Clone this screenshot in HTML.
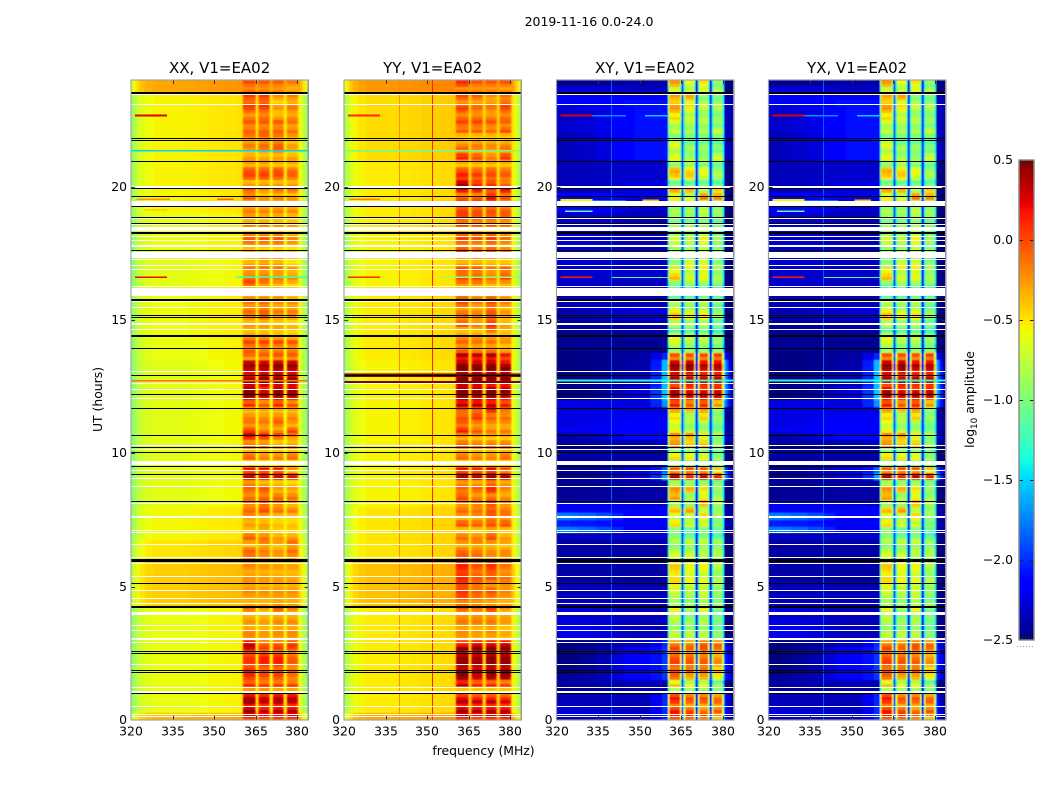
<!DOCTYPE html>
<html lang="en">
<head>
<meta charset="utf-8">
<title>2019-11-16 0.0-24.0</title>
<style>
html,body{margin:0;padding:0;background:#fff;}
svg{display:block;font-family:"DejaVu Sans","Liberation Sans",sans-serif;fill:#000;}
</style>
</head>
<body>
<svg id="figure" xmlns="http://www.w3.org/2000/svg" width="1050" height="800" viewBox="0 0 1050 800">
<defs><filter id="soften" x="-2%" y="-1%" width="104%" height="102%"><feGaussianBlur stdDeviation="0.5"/></filter></defs>
<text x="589" y="26" font-size="12.5" text-anchor="middle">2019-11-16 0.0-24.0</text>
<text x="483.5" y="755" font-size="12.4" text-anchor="middle">frequency (MHz)</text>
<text x="0" y="0" font-size="12.4" text-anchor="middle" transform="translate(102,399.5) rotate(-90)">UT (hours)</text>
<text x="0" y="0" font-size="12.4" text-anchor="middle" transform="translate(974,399.5) rotate(-90)">log<tspan font-size="8.8" dy="3">10</tspan><tspan dy="-3"> amplitude</tspan></text>
<g id="panels"></g>
<g id="colorbar"></g>
</svg>
<script>
// ---- shared axis data ----
const panelTitles = ["XX, V1=EA02", "YY, V1=EA02", "XY, V1=EA02", "YX, V1=EA02"];
const xTickLabels = [320, 335, 350, 365, 380];
const yTickLabels = [0, 5, 10, 15, 20];
const colorbarTicks = [0.5, 0.0, -0.5, -1.0, -1.5, -2.0, -2.5];
const utBinHours = 0.25;

// frequency channels (MHz) and what each one samples
const channelEdges = [320,320.7,321.4,322.2,323.2,325,328,334,340,344,348,354,358,360.2,360.8,364.5,365.1,365.9,366.5,369.6,370.2,371,371.6,374.7,375.3,376.1,376.7,379.8,380.4,381.2,382,383,384];
const channelKind  = [0,0,0,0,0,0,0,0,0,0,0,0,0,2,1,2,3,2,1,2,3,2,1,2,3,2,1,2,0,0,0,0];
const channelBlock = [0,0,0,0,0,0,0,0,0,0,0,0,0,0,0,0,0,1,1,1,1,2,2,2,2,3,3,3,3,3,3,3];
const channelRolloff  = [-.35,-.3,-.22,-.15,-.08,-.03,0,0,.01,.02,.04,.05,.06,0,0,0,0,0,0,0,0,0,0,0,0,0,0,0,0,-.08,-.2,-.35];
const channelShoulder = [0,0,0,0,0,0,0,0,0,0,0,.3,.75,0,0,0,0,0,0,0,0,0,0,0,0,0,0,0,.8,.6,.4,.15];
const channelMidWeight = [0,0,0,0,0,.05,.15,.35,.65,.9,1,1,1,1,1,1,1,1,1,1,1,1,1,1,1,1,1,1,1,1,1,1];
const channelCrossTrim = [0,0,0,0,0,0,0,0,0,0,0,0,0,0,0,0,0,0,0,0,0,0,0,0,0,0,0,0,-.2,-.25,-.25,-.25];

// within-bin banding of the sub-band power (upper half +d, lower half -d), per 15-minute UT bin
const blockStripe = [
.1,-.1,.12,-.1,0,-.12,.05,-.08,.08,-.05,.1,-.1,
.04,-.05,.05,-.03,.06,-.05,.03,-.05,.04,-.03,.04,-.05,
.06,-.05,.08,-.06,.05,-.04,.06,-.05,.05,-.06,.04,-.05,
-.05,.1,0,-.05,.05,-.06,.1,-.08,.06,-.05,.06,-.1,
.1,-.08,.12,-.08,.08,-.1,.1,-.06,.08,-.05,.05,-.06,
.05,-.06,.06,-.05,0,.08,-.06,.06,-.05,.08,-.05,.06,
-.06,.05,-.08,.06,-.05,.06,-.08,.08,-.06,.06,-.05,.06,
-.05,.08,-.06,.06,-.06,.08,-.06,.06,-.08,.05,-.05,.06
];

// ---- XX: background and four sub-band amplitudes per 15-minute UT bin (log10) ----
const xxBase = [-.35,-.6,-.6,-.6,-.6,-.6,-.6,-.6,-.6,-.6,-.6,-.6,-.6,-.6,-.6,-.6,-.6,-.42,-.42,-.42,-.42,-.42,-.42,-.42,-.5,-.5,-.5,-.56,-.56,-.56,-.56,-.56,-.62,-.62,-.62,-.62,-.62,-.62,-.62,-.62,-.62,-.62,-.62,-.62,-.62,-.62,-.62,-.62,-.62,-.62,-.62,-.62,-.62,-.62,-.6,-.6,-.6,-.58,-.58,-.58,-.58,-.58,-.58,-.58,-.58,-.62,-.62,-.62,-.62,-.62,-.6,-.6,-.6,-.6,-.6,-.6,-.55,-.55,-.55,-.55,-.55,-.55,-.55,-.55,-.55,-.55,-.55,-.55,-.55,-.55,-.55,-.55,-.55,-.55,-.3,-.3];
const xxBlocks = [
[.15,.1,.15,.15],[.38,.25,.3,.3],[.3,.2,.25,.2],[.3,.22,.28,.28],[-.25,-.25,-.3,-.3],[.05,-.05,-.05,-.05],[.08,-.02,0,-.15],[.12,-.02,-.05,-.12],
[.02,.08,.08,-.12],[.05,.12,.12,-.1],[.15,-.05,-.05,-.1],[.25,-.12,-.1,0],[-.22,-.28,-.25,-.25],[-.25,-.3,-.25,-.25],[-.28,-.3,-.25,-.25],[-.32,-.35,-.3,-.32],
[-.15,-.32,-.1,-.22],[-.3,-.3,-.25,-.28],[-.3,-.3,-.28,-.28],[-.22,-.25,-.25,-.25],[-.25,-.3,-.3,-.3],[-.25,-.28,-.3,-.32],[-.28,-.3,-.32,-.32],[-.22,-.28,-.3,-.32],
[-.18,-.25,-.3,-.25],[-.12,-.2,-.28,-.15],[-.35,-.25,-.35,-.2],[-.1,-.18,-.3,-.3],[-.4,-.35,-.45,-.45],[-.3,-.32,-.4,-.42],[-.25,-.32,-.4,-.4],[-.12,-.02,-.15,-.2],
[-.18,-.08,-.2,-.3],[-.15,-.12,-.12,-.15],[-.1,-.05,-.3,-.3],[-.2,-.3,-.35,-.42],[.3,.25,.28,.22],[.1,.1,.05,-.3],[-.45,-.45,-.45,-.45],[-.1,-.2,-.2,-.12],
[-.3,-.35,-.35,-.35],[-.15,-.22,-.35,-.3],[.2,.1,-.05,-.2],[.02,-.2,-.25,-.05],[-.2,-.2,-.12,-.3],[-.2,-.25,-.2,-.22],[-.3,-.3,-.3,-.3],[.05,-.12,.05,-.1],
[.4,.3,.35,.32],[.45,.2,.4,.35],[.42,.38,.38,.35],[.3,.38,.38,.35],[.3,.3,.35,.3],[.4,.35,.4,.38],[-.2,-.15,-.12,-.15],[-.1,-.2,-.2,-.2],
[-.05,-.05,-.05,-.1],[-.25,-.25,-.3,-.35],[-.35,-.35,-.35,-.4],[-.3,-.3,-.35,-.4],[-.2,-.12,-.25,-.25],[-.15,-.12,-.2,-.22],[-.2,-.15,-.25,-.25],[-.25,-.25,-.25,-.35],
[-.4,-.4,-.4,-.4],[-.05,-.2,-.3,-.4],[-.15,-.15,-.2,-.25],[-.2,-.2,-.2,-.3],[-.3,-.25,-.3,-.45],[-.3,-.15,-.15,-.3],[-.35,-.4,-.4,-.45],[-.2,-.2,-.2,-.3],
[-.1,-.1,-.1,-.25],[-.4,-.4,-.4,-.45],[-.25,-.25,-.3,-.3],[-.3,-.35,-.35,-.4],[-.2,-.22,-.22,-.25],[-.4,-.4,-.4,-.4],[-.12,-.3,-.25,-.3],[-.05,-.2,-.1,-.1],
[-.3,-.3,-.3,-.3],[-.02,-.02,-.05,-.12],[-.05,-.08,-.05,-.15],[-.3,-.3,-.35,-.35],[-.3,-.35,-.3,-.32],[-.3,-.2,-.1,-.35],[-.2,-.15,-.12,-.32],[-.18,-.12,-.18,-.28],
[-.12,-.12,-.12,-.18],[-.12,-.12,-.12,-.2],[-.2,-.15,-.3,-.25],[-.05,-.05,-.3,-.2],[-.02,0,-.35,-.25],[0,.03,-.25,-.2],[-.15,-.18,-.2,-.3],[-.05,-.1,-.12,-.2]
];

// ---- YY ----
const yyBase = [-.3,-.52,-.52,-.52,-.52,-.52,-.52,-.52,-.52,-.52,-.52,-.52,-.52,-.52,-.52,-.52,-.52,-.38,-.38,-.38,-.38,-.38,-.38,-.38,-.5,-.5,-.5,-.5,-.5,-.5,-.5,-.5,-.55,-.55,-.55,-.55,-.55,-.55,-.55,-.55,-.55,-.55,-.55,-.55,-.55,-.55,-.55,-.55,-.55,-.55,-.55,-.55,-.55,-.55,-.52,-.52,-.52,-.52,-.52,-.52,-.52,-.52,-.52,-.52,-.52,-.55,-.55,-.55,-.55,-.55,-.55,-.55,-.55,-.52,-.52,-.52,-.52,-.52,-.52,-.52,-.52,-.52,-.52,-.52,-.47,-.47,-.47,-.47,-.47,-.47,-.47,-.47,-.47,-.47,-.25,-.25];
const yyBlocks = [
[.2,.1,.2,.2],[.35,.3,.3,.28],[.25,.2,.22,.15],[.15,.05,.05,0],[-.4,-.4,-.4,-.4],[.25,.05,.05,-.05],[.45,.3,.4,.4],[.42,.35,.42,.42],
[.4,.38,.4,.4],[.42,.38,.45,.42],[.42,.4,.45,.42],[.1,.2,.2,.25],[-.25,-.3,-.3,-.35],[-.25,-.3,-.25,-.35],[-.2,-.2,-.2,-.3],[-.22,-.22,-.22,-.28],
[-.1,-.15,0,-.28],[-.15,-.2,-.25,-.3],[0,-.12,-.15,-.25],[.05,-.08,-.05,-.2],[.05,-.1,-.2,-.2],[.1,-.05,-.05,-.15],[.08,-.1,0,-.2],[.1,-.05,.05,-.15],
[-.1,-.15,-.25,-.25],[-.15,-.2,-.25,-.25],[-.3,-.25,-.3,-.35],[-.15,-.2,-.05,-.3],[-.4,-.4,-.3,-.4],[-.05,-.1,-.05,-.05],[-.3,-.25,-.1,-.2],[-.12,-.15,-.05,-.15],
[-.2,-.15,0,-.2],[-.05,-.2,-.15,-.25],[-.12,-.1,.1,-.2],[-.2,-.25,-.1,-.25],[.38,.35,.42,.35],[.1,.05,.15,-.1],[-.45,-.45,-.45,-.45],[-.12,-.2,-.2,-.12],
[-.3,-.3,-.3,-.3],[-.1,-.15,-.15,-.15],[-.25,-.3,-.35,-.35],[.1,-.1,-.2,-.2],[-.1,-.2,-.25,-.25],[-.05,.05,-.1,-.15],[-.05,-.05,.15,-.1],[.3,.3,.25,.1],
[.45,.35,.4,.3],[.45,.4,.45,.4],[.4,.35,.3,.3],[.45,.45,.45,.45],[.45,.4,.42,.42],[.4,.38,.4,.3],[.3,.25,.3,.1],[-.1,-.2,-.15,-.3],
[-.15,-.2,-.2,-.3],[-.25,-.25,-.3,-.3],[-.35,-.35,-.1,-.35],[-.05,-.2,.05,-.3],[-.15,-.2,-.05,-.3],[-.22,-.25,-.1,-.3],[-.05,-.2,-.05,-.2],[-.1,-.2,-.1,-.25],
[-.4,-.4,-.4,-.4],[-.2,-.2,-.3,-.3],[-.05,-.05,-.15,-.02],[-.05,-.1,-.2,-.1],[-.3,-.3,-.35,-.35],[-.2,-.15,-.25,-.3],[0,-.1,-.05,-.15],[-.15,-.2,-.15,-.25],
[0,-.05,0,-.15],[-.3,-.3,-.35,-.35],[-.05,-.1,-.1,-.15],[0,-.05,-.1,-.1],[0,-.05,-.05,-.1],[-.05,-.05,-.05,-.3],[-.1,-.1,.15,-.05],[.25,.2,.05,.25],
[.35,.1,.05,-.1],[.1,0,-.05,-.1],[-.05,-.1,-.1,-.15],[-.35,-.35,-.35,-.35],[.1,-.05,-.2,.02],[-.15,-.25,-.3,-.2],[-.25,-.2,-.25,-.25],[-.4,-.4,-.4,-.4],
[-.1,-.1,-.15,-.05],[-.05,-.05,-.1,-.15],[-.15,-.15,-.2,-.15],[0,-.15,-.2,-.05],[-.15,-.2,-.2,-.05],[-.02,-.1,-.25,-.15],[-.2,-.2,-.2,-.25],[.05,-.1,-.1,-.1]
];

// ---- cross-hands (XY and YX read nearly identically) ----
const crossBaseLeft = [-2.35,-2.25,-2.35,-2.35,-2.45,-2.4,-2.45,-2.5,-2.5,-2.5,-2.5,-2.5,-2.25,-2.15,-2.25,-2.3,-2.25,-2.35,-2.35,-2.35,-2.35,-2.4,-2.4,-2.4,-2.4,-2.4,-2.4,-2.35,-1.75,-2.05,-1.75,-2.15,-2.25,-2.45,-2.45,-2.45,-2.45,-2.45,-2.4,-2.4,-2.4,-2.4,-2.4,-2.2,-2.25,-2.25,-2.25,-2.25,-2.5,-2.5,-2.5,-2.5,-2.5,-2.5,-2.5,-2.45,-2.45,-2.45,-2.45,-2.45,-2.35,-2.35,-2.35,-2.35,-2.3,-2.3,-2.3,-2.3,-2.3,-2.3,-2.3,-2.3,-2.3,-2.3,-2.3,-2.3,-2.15,-2.15,-2.15,-2.35,-2.35,-2.35,-2.35,-2.35,-2.35,-2.35,-2.35,-2.35,-2.3,-2.3,-2.3,-2.3,-2.15,-2.15,-2.25,-2.45];
const crossBaseMid = [-2.35,-2.3,-2.35,-2.35,-2.4,-2.35,-2.15,-2.15,-2.15,-2.15,-2.15,-2.35,-2.35,-2.35,-2.35,-2.35,-2.35,-2.35,-2.35,-2.35,-2.4,-2.4,-2.4,-2.4,-2.4,-2.4,-2.4,-2.3,-2.15,-2.15,-2.15,-2.15,-2.3,-2.4,-2.4,-2.4,-2.25,-2.25,-2.35,-2.4,-2.4,-2.35,-2.15,-2.15,-2.15,-2.2,-2.25,-2.25,-2.25,-2.25,-2.35,-2.35,-2.35,-2.4,-2.4,-2.45,-2.45,-2.4,-2.4,-2.4,-2.25,-2.25,-2.35,-2.35,-2.3,-2.35,-2.3,-2.3,-2.35,-2.35,-2.35,-2.35,-2.35,-2.35,-2.35,-2.35,-2.3,-2.3,-2.25,-2.25,-2.25,-2.3,-2.3,-2.3,-2.1,-2.1,-2.1,-2.1,-2.1,-2.1,-2.1,-2.1,-2.1,-2.15,-2.3,-2.4];
const crossShoulder = [-1.9,-1.9,-1.9,-1.9,-2.45,-2.45,-1.9,-1.9,-1.9,-1.9,-1.9,-1.9,-2.45,-2.45,-2.45,-2.45,-2.45,-2.45,-2.45,-2.45,-2.45,-2.45,-2.45,-2.45,-2.45,-2.45,-2.45,-2.45,-2.45,-2.45,-2.45,-2.45,-2.45,-2.45,-2.45,-2.45,-1.4,-1.7,-2.45,-2.45,-2.45,-2.3,-2.2,-2.45,-2.45,-2.45,-2.3,-1.5,-1.3,-1.3,-1.3,-1.3,-1.3,-1.3,-1.9,-2.45,-2.45,-2.45,-2.45,-2.45,-2.45,-2.45,-2.45,-2.45,-2.45,-2.45,-2.45,-2.45,-2.45,-2.45,-2.45,-2.45,-2.45,-2.45,-2.45,-2.45,-2.45,-2.45,-2.45,-2.45,-2.45,-2.45,-2.45,-2.45,-2.45,-2.45,-2.45,-2.45,-2.45,-2.45,-2.45,-2.45,-2.45,-2.45,-2.45,-2.45];
const crossBlocks = [
[.05,0,-.1,-.3],[.1,-.05,-.2,-.1],[-.05,-.2,-.2,-.2],[.1,-.1,-.1,-.2],[-.8,-.85,-.85,-.95],[-.5,-.7,-.7,-.95],[-.1,-.3,-.3,-.55],[-.05,-.05,-.05,-.4],
[-.02,-.08,-.1,-.25],[-.05,-.1,-.15,-.3],[-.05,-.15,-.1,-.2],[-.2,-.2,-.1,-.15],[-.75,-.75,-.75,-.95],[-.85,-.85,-.85,-1],[-.85,-.9,-.85,-1.05],[-.75,-.95,-.85,-1],
[-.6,-.85,-.6,-1],[-.8,-.85,-.75,-.9],[-.8,-.85,-.75,-.95],[-.65,-.75,-.7,-.9],[-.5,-.6,-.65,-.8],[-.5,-.6,-.7,-.85],[-.45,-.6,-.6,-.85],[-.45,-.6,-.6,-.8],
[-.7,-.7,-.85,-.85],[-.8,-.85,-.8,-.85],[-.9,-.8,-.8,-.9],[-.9,-1,-.95,-1.1],[-.95,-1.1,-1,-1.1],[-.5,-.7,-.7,-.95],[-.7,-.8,-.5,-.9],[-.4,-.3,-.75,-.9],
[-.85,-.85,-.35,-.8],[-.3,-.85,-.6,-.85],[-.25,-.35,-.5,-.9],[-.8,-.85,-.85,-.95],[.35,.15,.3,.15],[-.15,-.1,-.15,-.5],[-.95,-.95,-.95,-.95],[-.5,-.55,-.6,-.9],
[-.9,-.9,-.95,-1],[-.2,-.4,-.4,-.85],[-.25,-.3,-.6,-.9],[-.6,-.8,-.85,-1],[-.65,-.85,-.85,-1],[-.5,-.8,-.45,-.9],[-.25,-.35,-.25,-.85],[.1,-.1,.05,-.3],
[.3,.25,.3,.25],[.3,.15,.15,.2],[.1,.25,.2,.2],[.3,.2,.25,.25],[.3,.35,.2,.25],[.4,.4,.3,.3],[-.1,-.1,-.1,-.05],[-.9,-.9,-.9,-.95],
[-.7,-.85,-.85,-.95],[-.65,-.75,-.75,-.95],[-1.1,-1.1,-1.05,-1.2],[-.75,-.85,-.8,-1],[-.4,-.6,-.55,-.9],[-.6,-.75,-.7,-.95],[-.8,-.85,-.8,-1],[-1.1,-1.1,-1,-1.1],
[-1.2,-1.2,-1.2,-1.2],[-.95,-.85,-.9,-.95],[-.4,-.7,-.6,-.85],[-.55,-.7,-.6,-.85],[-.9,-.6,-.6,-.9],[-.9,-.9,-.75,-.95],[-.85,-.8,-.7,-.9],[-.75,-.8,-.65,-.9],
[-.75,-.8,-.6,-.9],[-.9,-.85,-.8,-.95],[-.9,-.9,-.85,-1],[-.9,-.95,-.85,-.95],[-.85,-.85,-.75,-.9],[-.7,-.75,-.8,-.9],[-.6,-.7,-.2,-.25],[-.25,-.3,-.75,-.4],
[-1,-1,-1,-1.05],[-.45,-.45,-.7,-.85],[-.35,-.5,-.6,-.9],[-.9,-.8,-.95,-1],[-.6,-.85,-.9,-.7],[-.8,-.85,-.9,-1],[-.65,-1,-1,-1.05],[-1,-1,-1,-1],
[-.75,-.85,-.85,-.75],[-.75,-.8,-.85,-.95],[-.5,-.75,-.85,-.95],[-.3,-.6,-.8,-.85],[-.35,-.55,-.75,-.85],[-.3,-.3,-.95,-1],[-.7,-.75,-.65,-.8],[-.3,-.65,-.55,-.95]
];

// ---- single-channel RFI: [MHz, log10 amplitude] ----
const yyRfiChannels = [[351.6, .12], [339.7, -.22]];
const crossRfiChannels = [[339.8, -1.85]];
// ---- single-time RFI: [UT hours, MHz from, MHz to, log10 amplitude, duration hours] ----
const xxStreaks = [[22.64,321.5,333,.25,.06],[21.32,320,384,-1.5,.06],[19.5,322,334,-.25,.06],[19.5,351,357,-.1,.06],[19.1,325,333,-.35,.05],[16.57,321.5,333,.2,.06],[16.57,358,384,-1.25,.06],[12.69,320,384,-.15,.06]];
const yyStreaks = [[22.64,321.5,333,.1,.06],[21.32,320,384,-1.05,.06],[19.5,322,333,-.2,.05],[16.57,321.5,333,.1,.06],[16.57,355,384,-.9,.06],[12.87,320,384,.5,.12],[12.64,320,384,.5,.08]];
const crossStreaks = [[22.64,321.5,333,.25,.07],[22.64,333,345,-1.7,.05],[22.64,352,360,-1.5,.05],[19.45,321.5,333,-.55,.08],[19.45,333,345,-1.8,.05],[19.45,351,357,-.4,.07],[19.05,323,333,-1.1,.06],[16.57,321.5,333,.15,.07],[16.57,340,360,-1.2,.05],[12.69,320,384,-1.3,.08]];

// ---- flagged data, UT hours ----
const flaggedBands = [[.11,.15],[.18,.22],[.48,.52],[1.01,1.08],[1.2,1.24],[2.07,2.11],[2.89,2.93],[3,3.06],[3.34,3.38],[3.53,3.57],[3.94,4.05],[4.35,4.39],[4.54,4.58],[4.84,4.88],[5.36,5.4],[5.85,5.89],[6.08,6.12],[6.57,6.61],[7,7.04],[7.08,7.12],[7.57,7.64],[8.1,8.14],[8.74,8.78],[9.04,9.08],[9.34,9.38],[9.56,9.72],[10.13,10.17],[10.28,10.32],[12.04,12.08],[12.38,12.42],[12.58,12.62],[13.05,13.09],[14.63,14.67],[14.79,14.87],[15.46,15.5],[15.68,15.72],[15.91,16.21],[16.25,16.29],[16.88,16.92],[17.04,17.08],[17.23,17.27],[17.34,17.55],[17.76,17.82],[17.94,17.99],[18.1,18.14],[18.35,18.49],[18.55,18.59],[18.79,18.83],[19.3,19.47],[19.94,20.04],[23.07,23.11],[23.44,23.48]];
const flaggedLines = [[.98,.05],[1.79,.05],[1.86,.05],[2.5,.05],[2.57,.05],[4.25,.09],[5.12,.05],[6,.1],[8.2,.05],[9.21,.05],[9.51,.05],[10.03,.05],[10.21,.05],[10.67,.05],[11.69,.05],[12.21,.05],[12.93,.05],[13.94,.05],[14.4,.09],[15.09,.05],[15.16,.05],[15.75,.09],[17.61,.05],[18.27,.09],[18.61,.05],[18.84,.05],[19.27,.05],[19.64,.05],[19.92,.04],[20.95,.05],[21.72,.05],[21.79,.05],[23.52,.06]];

// ---- panel wiring ----
const panels = [
  {left:131, baseA:xxBase, baseB:xxBase, blocks:xxBlocks, shoulder:null, rfi:[], streaks:xxStreaks, edgeMix:.8, gapMix:.12, rolloff:1},
  {left:344, baseA:yyBase, baseB:yyBase, blocks:yyBlocks, shoulder:null, rfi:yyRfiChannels, streaks:yyStreaks, edgeMix:.8, gapMix:.12, rolloff:1},
  {left:556.5, baseA:crossBaseLeft, baseB:crossBaseMid, blocks:crossBlocks, shoulder:crossShoulder, rfi:crossRfiChannels, streaks:crossStreaks, edgeMix:.72, gapMix:.1, rolloff:0},
  {left:768.5, baseA:crossBaseLeft, baseB:crossBaseMid, blocks:crossBlocks, shoulder:crossShoulder, rfi:crossRfiChannels, streaks:crossStreaks, edgeMix:.72, gapMix:.1, rolloff:0}
];

// ---- scales ----
const plotTop = 80, plotBottom = 720, pxPerMHz = 2.77;
const freqMin = 320, freqMax = 384, utMax = 24;
const valueMin = -2.5, valueMax = 0.5;
function xScale(panel, mhz) { return panel.left + (mhz - freqMin) * pxPerMHz; }
function yScale(ut) { return plotBottom - (ut / utMax) * (plotBottom - plotTop); }
function ramp(t, a, b) { return Math.max(0, Math.min(1, (t - a) / (b - a))); }
function jet(v) {
  const t = Math.max(0, Math.min(1, (v - valueMin) / (valueMax - valueMin)));
  const r = t > .89 ? 1 - .5 * ramp(t, .89, 1) : ramp(t, .35, .66);
  const g = t < .64 ? ramp(t, .125, .375) : 1 - ramp(t, .64, .91);
  const b = t < .34 ? .5 + .5 * ramp(t, 0, .11) : 1 - ramp(t, .34, .65);
  return "rgb(" + Math.round(r * 255) + "," + Math.round(g * 255) + "," + Math.round(b * 255) + ")";
}
function cellValue(panel, row, col) {
  const w = channelMidWeight[col];
  let base = panel.baseA[row] * (1 - w) + panel.baseB[row] * w;
  if (panel.shoulder) base += channelCrossTrim[col];
  const kind = channelKind[col];
  if (kind === 0) {
    let v = base + panel.rolloff * channelRolloff[col];
    if (panel.shoulder) {
      const s = panel.shoulder[row];
      v = Math.max(v, base + channelShoulder[col] * (s - base));
    }
    return v;
  }
  const block = panel.blocks[row][channelBlock[col]];
  const mix = kind === 1 ? 1 : kind === 2 ? panel.edgeMix : panel.gapMix;
  return base + mix * (block - base);
}
const SVGNS = "http://www.w3.org/2000/svg";
function make(tag, attrs, parent) {
  const node = document.createElementNS(SVGNS, tag);
  for (const key in attrs) node.setAttribute(key, attrs[key]);
  parent.appendChild(node);
  return node;
}
function tickText(value) { return String(value); }
function bandBar(panel, right, utLow, utHigh, fill, parent) {
  const top = Math.round(yScale(utHigh));
  const height = Math.max(1, Math.round(yScale(utLow) - yScale(utHigh)));
  return make("rect", {x: panel.left, y: top, width: right - panel.left, height: height, fill: fill}, parent);
}
function lineBar(panel, right, utCentre, hours, fill, parent) {
  const height = Math.max(1, Math.round(hours / utMax * (plotBottom - plotTop)));
  const top = Math.round(yScale(utCentre) - height / 2);
  return make("rect", {x: panel.left, y: top, width: right - panel.left, height: height, fill: fill}, parent);
}

const panelsGroup = document.getElementById("panels");
panels.forEach(function (panel, p) {
  const tag = panelTitles[p].slice(0, 2).toLowerCase();
  const right = panel.left + (freqMax - freqMin) * pxPerMHz;
  const group = make("g", {"shape-rendering": "crispEdges"}, panelsGroup);
  
  

  const heat = make("g", {filter: "url(#soften)"}, group);
  
  

  const frag = document.createDocumentFragment();
  // heatmap cells: sub-band channels are split in two half-bins by the stripe array
  panel.blocks.forEach(function (rowBlocks, row) {
    const y0 = Math.round(yScale((row + 1) * utBinHours)), y1 = Math.round(yScale(row * utBinHours));
    const yMid = Math.round((y0 + y1) / 2);
    for (let col = 0; col < channelKind.length; col++) {
      const x0 = xScale(panel, channelEdges[col]), x1 = xScale(panel, channelEdges[col + 1]);
      const value = cellValue(panel, row, col);
      const kind = channelKind[col];
      if (kind === 1 || kind === 2) {
        const upper = make("rect", {x: x0, y: y0, width: x1 - x0, height: yMid - y0, fill: jet(value + blockStripe[row])}, heat);
        
        
        const lower = make("rect", {x: x0, y: yMid, width: x1 - x0, height: y1 - yMid, fill: jet(value - blockStripe[row])}, heat);
        
        
      } else {
        const cell = make("rect", {x: x0, y: y0, width: x1 - x0, height: y1 - y0, fill: jet(value)}, heat);
        
        
      }
    }
  });
  // channel RFI
  panel.rfi.forEach(function (rfi) {
    const line = make("rect", {x: Math.round(xScale(panel, rfi[0])), y: plotTop, width: 1, height: plotBottom - plotTop, fill: jet(rfi[1])}, frag);
    
    
  });
  // time RFI
  panel.streaks.forEach(function (s) {
    const streak = make("rect", {x: xScale(panel, s[1]), y: yScale(s[0] + s[4]), width: (s[2] - s[1]) * pxPerMHz, height: yScale(s[0]) - yScale(s[0] + s[4]), fill: jet(s[3])}, frag);
    
    
  });
  // flags
  flaggedBands.forEach(function (b) {
    const band = bandBar(panel, right, b[0], b[1], "#fff", frag);
    
    
  });
  flaggedLines.forEach(function (b) {
    const bar = lineBar(panel, right, b[0], b[1], "#000", frag);
    
    
  });
  // ticks
  xTickLabels.forEach(function (f) {
    const x = Math.round(xScale(panel, f));
    if (f !== freqMin) {
      const tickB = make("rect", {x: x, y: plotBottom - 4, width: 1, height: 4, fill: "#333"}, frag);
      
      
      const tickT = make("rect", {x: x, y: plotTop, width: 1, height: 4, fill: "#333"}, frag);
      
      
    }
    const label = make("text", {x: x, y: 735.5, "font-size": 12.4, "text-anchor": "middle"}, frag);
    
    
    label.textContent = tickText(f);
  });
  yTickLabels.forEach(function (u) {
    const y = Math.round(yScale(u));
    if (u !== 0) {
      const tickL = make("rect", {x: panel.left, y: y, width: 4, height: 1, fill: "#333"}, frag);
      
      
      const tickR = make("rect", {x: right - 4, y: y, width: 4, height: 1, fill: "#333"}, frag);
      
      
    }
    const label = make("text", {x: panel.left - 4, y: y + 4, "font-size": 12.4, "text-anchor": "end"}, frag);
    
    
    label.textContent = tickText(u);
  });
  // frame + title
  const frame = make("rect", {x: panel.left, y: plotTop, width: right - panel.left, height: plotBottom - plotTop, fill: "none", stroke: "#999", "stroke-width": 1.4}, frag);
  
  
  const title = make("text", {x: (panel.left + right) / 2, y: 73, "font-size": 15, "text-anchor": "middle"}, frag);
  
  
  title.textContent = panelTitles[p];
  group.appendChild(frag);
});

// ---- colorbar ----
const cbGroup = document.getElementById("colorbar");
const cbLeft = 1019, cbRight = 1034, cbTop = 160, cbBottom = 640, cbSteps = 120;
function cbY(v) { return cbBottom - (v - valueMin) / (valueMax - valueMin) * (cbBottom - cbTop); }
for (let i = 0; i < cbSteps; i++) {
  const v0 = valueMin + (valueMax - valueMin) * i / cbSteps;
  const v1 = valueMin + (valueMax - valueMin) * (i + 1) / cbSteps;
  const swatch = make("rect", {x: cbLeft, y: cbY(v1), width: cbRight - cbLeft, height: cbY(v0) - cbY(v1) + .5, fill: jet((v0 + v1) / 2), "shape-rendering": "crispEdges"}, cbGroup);
  
  
}
colorbarTicks.forEach(function (v) {
  const y = Math.round(cbY(v));
  const label = make("text", {x: 1013, y: y + 4, "font-size": 12.4, "text-anchor": "end"}, cbGroup);
  
  
  label.textContent = v.toFixed(1).replace("-", "\u2212");
  if (v !== colorbarTicks[0] && v !== colorbarTicks[colorbarTicks.length - 1]) {
    const a = make("rect", {x: cbLeft, y: y, width: 4, height: 1, fill: "#222", "shape-rendering": "crispEdges"}, cbGroup);
    
    
    const b = make("rect", {x: cbRight - 4, y: y, width: 4, height: 1, fill: "#222", "shape-rendering": "crispEdges"}, cbGroup);
    
    
  }
});
[0.2, 0.4, 0.6, 0.8].forEach(function (frac) {
  const x = Math.round(cbLeft + frac * (cbRight - cbLeft));
  const t = make("rect", {x: x, y: cbTop, width: 1, height: 4, fill: "#222", "shape-rendering": "crispEdges"}, cbGroup);
  
  
  const u = make("rect", {x: x, y: cbBottom - 4, width: 1, height: 4, fill: "#222", "shape-rendering": "crispEdges"}, cbGroup);
  
  
});
const cbFrame = make("rect", {x: cbLeft, y: cbTop, width: cbRight - cbLeft, height: cbBottom - cbTop, fill: "none", stroke: "#888", "stroke-width": 1.4}, cbGroup);


const cbDots = make("line", {x1: 1017, x2: 1035, y1: 646.5, y2: 646.5, stroke: "#aaa", "stroke-width": 1, "stroke-dasharray": "1 2"}, cbGroup);


</script>
</body>
</html>
